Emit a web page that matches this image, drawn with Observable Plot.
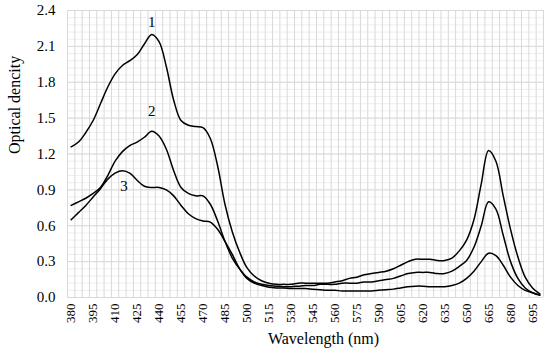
<!DOCTYPE html>
<html>
<head>
<meta charset="utf-8">
<script src="https://cdn.jsdelivr.net/npm/d3@7"></script>
<script src="https://cdn.jsdelivr.net/npm/@observablehq/plot@0.6"></script>
<style>
  html, body { margin: 0; padding: 0; background: #fff; }
  #chart svg { display: block; }
</style>
</head>
<body>
<div id="chart"></div>
<script>
// Wavelengths (nm), step 5
const wavelength = d3.range(380, 701, 5);

// Curve 1
const od1 = [1.26, 1.30, 1.38, 1.48, 1.62, 1.76, 1.87, 1.94, 1.98, 2.03, 2.12, 2.20, 2.14, 1.93, 1.65, 1.48, 1.44, 1.43, 1.42, 1.33,
  1.10, 0.78, 0.55, 0.38, 0.25, 0.18, 0.14, 0.12, 0.11, 0.11, 0.11, 0.12, 0.12, 0.12, 0.12, 0.12, 0.13, 0.14, 0.16, 0.17,
  0.19, 0.20, 0.21, 0.22, 0.24, 0.27, 0.30, 0.32, 0.32, 0.32, 0.31, 0.31, 0.33, 0.39, 0.48, 0.65, 0.95, 1.23, 1.14, 0.85,
  0.57, 0.34, 0.17, 0.08, 0.03];
// Curve 2
const od2 = [0.77, 0.80, 0.83, 0.87, 0.92, 1.02, 1.14, 1.22, 1.27, 1.30, 1.34, 1.39, 1.35, 1.24, 1.06, 0.92, 0.87, 0.85, 0.85, 0.78,
  0.64, 0.47, 0.33, 0.24, 0.17, 0.13, 0.11, 0.10, 0.095, 0.09, 0.09, 0.095, 0.10, 0.10, 0.11, 0.11, 0.11, 0.12, 0.12, 0.12,
  0.13, 0.13, 0.14, 0.15, 0.16, 0.18, 0.20, 0.21, 0.21, 0.21, 0.20, 0.20, 0.22, 0.26, 0.31, 0.42, 0.60, 0.80, 0.74, 0.52,
  0.30, 0.16, 0.08, 0.04, 0.02];
// Curve 3
const od3 = [0.65, 0.71, 0.77, 0.84, 0.91, 0.99, 1.04, 1.06, 1.04, 0.98, 0.93, 0.92, 0.92, 0.90, 0.85, 0.77, 0.70, 0.66, 0.64, 0.63,
  0.57, 0.47, 0.36, 0.24, 0.16, 0.12, 0.10, 0.085, 0.08, 0.08, 0.075, 0.075, 0.075, 0.07, 0.065, 0.06, 0.06, 0.055, 0.055, 0.055,
  0.055, 0.055, 0.06, 0.065, 0.07, 0.08, 0.09, 0.095, 0.095, 0.09, 0.09, 0.09, 0.10, 0.12, 0.16, 0.22, 0.30, 0.37, 0.35, 0.27,
  0.17, 0.10, 0.06, 0.04, 0.02];

const seriesNames = ["1", "2", "3"];
const seriesValues = [od1, od2, od3];

// Curve label positions
const labelText = ["1", "2", "3"];
const labelX = [435, 435, 416];
const labelY = [2.30, 1.56, 0.93];

// Ticks
const xTicks = d3.range(380, 700, 15);
const yTicks = d3.range(0, 2.41, 0.3);
const yMinor = d3.range(0, 2.41, 0.06);
const xGrid = d3.range(377.5, 703, 5);

const rows = [];
seriesNames.forEach((s, i) => wavelength.forEach((w, j) => rows.push({series: s, wl: w, od: seriesValues[i][j]})));
const labels = labelText.map((t, i) => ({t, x: labelX[i], y: labelY[i]}));

const FONT = "'Liberation Serif', 'Times New Roman', serif";

const chart = Plot.plot({
  width: 550,
  height: 357,
  marginLeft: 67,
  marginRight: 7,
  marginTop: 10,
  marginBottom: 60,
  style: {fontFamily: FONT, fontSize: "13px", color: "#000", background: "#fff"},
  x: {domain: [377.5, 702.5]},
  y: {domain: [0, 2.4]},
  marks: [
    Plot.ruleY(yMinor, {stroke: "#eeeeee", strokeWidth: 1}),
    Plot.ruleX(xGrid, {stroke: "#d9d9d9", strokeWidth: 1}),
    Plot.ruleY(yTicks, {stroke: "#d9d9d9", strokeWidth: 1}),
    Plot.axisY({ticks: yTicks, tickSize: 0, tickPadding: 12, tickFormat: d => d.toFixed(1), label: null, fontSize: 15}),
    Plot.axisX({ticks: xTicks, tickSize: 0, tickPadding: 6, tickRotate: -90, tickFormat: d => String(d), label: null, fontSize: 13}),
    Plot.line(rows, {x: "wl", y: "od", z: "series", stroke: "#000", strokeWidth: 1.5, curve: "catmull-rom"}),
    Plot.text(labels, {x: "x", y: "y", text: "t", fontSize: 15, fill: "#000"}),
    Plot.text(["Wavelength (nm)"], {frameAnchor: "bottom", dy: 46, dx: 18, fontSize: 16, fill: "#000"}),
    Plot.text(["Optical dencity"], {frameAnchor: "left", dx: -53, rotate: -90, fontSize: 16, fill: "#000"})
  ]
});
document.getElementById("chart").appendChild(chart);
</script>
</body>
</html>
